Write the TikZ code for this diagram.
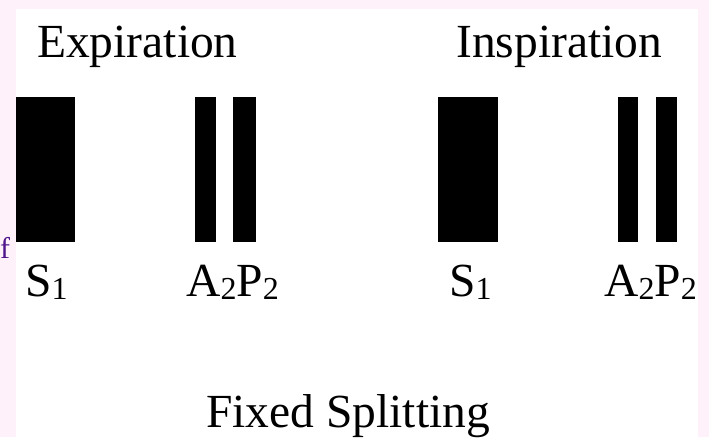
\documentclass[tikz,border=0pt]{standalone}
\usepackage{fontspec}
\setmainfont{Liberation Serif}
\definecolor{pagepink}{RGB}{255,241,250}
\definecolor{linkpurple}{RGB}{80,20,140}
\newcommand{\lowsub}[1]{\raisebox{-3pt}{\fontsize{32}{32}\selectfont #1}}
\tikzset{
  lbl/.style={inner sep=0, anchor=base west, font=\fontsize{47.5}{50}\selectfont},
  beat/.style={fill=black},
}
\begin{document}
\begin{tikzpicture}[x=1pt, y=-1pt]
\fill[pagepink](0,0) rectangle (709,437);
\fill[white](16,9) rectangle (698,437);
\useasboundingbox (0,0) rectangle (709,437);
% expiration
\node[lbl] (exptitle) at (37,57) {Expiration};
\fill[beat](16,97) rectangle (75,242);
\fill[beat](195,97) rectangle (216,242);
\fill[beat](233,97) rectangle (256,242);
\node[lbl] (exps) at (25,296) {S\lowsub{1}};
\node[lbl] (expap) at (186,296) {A\lowsub{2}P\lowsub{2}};
% inspiration
\node[lbl] (insptitle) at (456,57) {Inspiration};
\fill[beat](438,97) rectangle (498,242);
\fill[beat](618,97) rectangle (638,242);
\fill[beat](656,97) rectangle (677,242);
\node[lbl] (insps) at (449,296) {S\lowsub{1}};
\node[lbl] (inspap) at (604,296) {A\lowsub{2}P\lowsub{2}};
% caption
\node[lbl] (caption) at (206,427) {Fixed Splitting};
\node[inner sep=0, anchor=base west, text=linkpurple, font=\fontsize{30}{32}\selectfont] (f) at (0,258) {f};
\end{tikzpicture}
\end{document}
